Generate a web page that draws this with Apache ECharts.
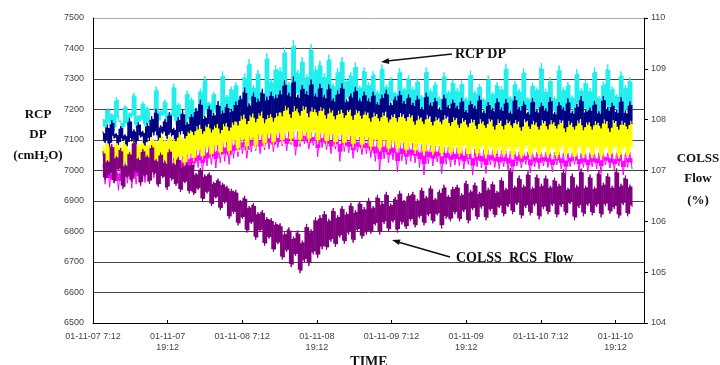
<!DOCTYPE html>
<html>
<head>
<meta charset="utf-8">
<style>
  html, body { margin: 0; padding: 0; background: #fff; }
  #chart { width: 720px; height: 365px; }
</style>
<script src="https://cdn.jsdelivr.net/npm/echarts@6/dist/echarts.min.js"></script>
</head>
<body>
<div id="chart"></div>
<script>
// time axis in hours since 01-11-07 7:12, one tick every 12 h
const tickLabels = [
  "01-11-07 7:12", "01-11-07\n19:12", "01-11-08 7:12", "01-11-08\n19:12",
  "01-11-09 7:12", "01-11-09\n19:12", "01-11-10 7:12", "01-11-10\n19:12"
];
const sampleStart = 1.6;   // h, first logged sample
const sampleStep = 0.356;  // h between samples

// RCP DP channels (cmH2O), left axis
const cyanDP = [
  7170,7140,7205,7152,7188,7130,7240,7165,7158,7135,7215,7148,7190,7172,7255,7138,7182,7160,7226,7144,
  7210,7150,7168,7142,7275,7160,7198,7178,7232,7146,7190,7165,7285,7150,7222,7170,7185,7144,7262,7158,
  7240,7160,7205,7180,7268,7158,7310,7185,7226,7165,7258,7190,7212,7162,7325,7175,7248,7196,7275,7168,
  7290,7185,7245,7200,7318,7182,7365,7215,7280,7190,7330,7205,7262,7188,7385,7210,7300,7195,7345,7220,
  7338,7210,7405,7230,7290,7205,7428,7245,7330,7215,7372,7208,7315,7240,7415,7212,7342,7225,7360,7205,
  7318,7200,7380,7228,7285,7198,7335,7215,7372,7205,7300,7235,7322,7196,7355,7210,7278,7220,7338,7200,
  7290,7188,7325,7210,7262,7185,7348,7205,7282,7195,7305,7220,7258,7188,7336,7200,7272,7215,7312,7186,
  7275,7180,7302,7200,7248,7176,7338,7195,7268,7182,7290,7210,7242,7178,7322,7192,7262,7205,7298,7178,
  7270,7168,7295,7190,7240,7165,7328,7185,7262,7172,7284,7200,7238,7166,7312,7180,7258,7195,7290,7170,
  7276,7170,7350,7188,7245,7166,7294,7192,7268,7175,7335,7198,7240,7168,7288,7182,7272,7196,7352,7170,
  7268,7168,7305,7190,7242,7170,7345,7185,7274,7172,7290,7200,7246,7166,7332,7186,7270,7194,7298,7168,
  7270,7170,7338,7188,7244,7166,7292,7195,7348,7172,7275,7200,7250,7168,7325,7184,7280,7192,7305,7170
];
const navyDP = [
  7128,7090,7150,7078,7165,7105,7122,7084,7146,7098,7118,7080,7172,7095,7135,7086,7158,7108,7130,7082,
  7155,7098,7178,7115,7202,7100,7148,7120,7168,7104,7192,7112,7140,7096,7175,7118,7198,7105,7158,7122,
  7185,7116,7205,7135,7232,7120,7178,7142,7212,7125,7188,7140,7228,7122,7196,7145,7218,7130,7202,7150,
  7226,7148,7245,7168,7272,7152,7220,7175,7255,7158,7235,7180,7268,7155,7242,7172,7258,7160,7248,7178,
  7262,7178,7295,7198,7255,7172,7308,7195,7248,7180,7280,7200,7260,7175,7298,7192,7252,7180,7284,7195,
  7248,7170,7282,7190,7236,7168,7262,7185,7285,7172,7232,7192,7252,7166,7274,7188,7236,7170,7258,7182,
  7236,7160,7258,7178,7224,7162,7248,7180,7265,7158,7222,7175,7242,7160,7260,7176,7228,7162,7250,7174,
  7222,7150,7245,7168,7208,7152,7255,7170,7222,7148,7238,7165,7206,7152,7248,7170,7214,7146,7232,7165,
  7212,7140,7238,7160,7198,7142,7228,7158,7212,7136,7245,7155,7196,7140,7224,7160,7205,7134,7236,7156,
  7206,7135,7234,7155,7194,7140,7244,7152,7208,7130,7226,7158,7192,7136,7238,7150,7200,7134,7222,7155,
  7204,7135,7240,7152,7192,7138,7224,7156,7208,7126,7236,7150,7195,7134,7218,7155,7244,7132,7200,7150,
  7206,7134,7228,7150,7194,7138,7244,7154,7208,7126,7222,7156,7198,7134,7240,7150,7196,7136,7226,7152
];
const yellowDP = [
  7080,6998,7098,7020,7072,6990,7095,7010,7085,6994,7105,7025,7070,6996,7098,7015,7088,6992,7100,7008,
  7092,7004,7112,7030,7098,7006,7122,7028,7100,7010,7118,7035,7104,7012,7128,7040,7110,7016,7135,7045,
  7138,7030,7150,7060,7145,7036,7162,7070,7152,7042,7168,7075,7160,7048,7174,7085,7166,7052,7182,7088,
  7186,7060,7198,7095,7188,7066,7208,7100,7196,7070,7212,7108,7200,7076,7218,7112,7206,7080,7222,7115,
  7225,7086,7234,7120,7220,7090,7238,7125,7226,7088,7232,7118,7220,7092,7228,7122,7216,7086,7222,7115,
  7216,7084,7214,7112,7206,7080,7216,7110,7204,7078,7210,7105,7200,7075,7208,7102,7196,7072,7202,7100,
  7196,7066,7192,7095,7186,7062,7195,7092,7184,7060,7190,7088,7180,7060,7188,7085,7178,7056,7186,7082,
  7182,7054,7178,7080,7174,7050,7182,7078,7170,7050,7178,7076,7168,7046,7176,7075,7170,7048,7176,7072,
  7170,7046,7168,7075,7172,7042,7165,7070,7170,7044,7166,7072,7172,7040,7164,7070,7168,7042,7170,7068,
  7166,7042,7160,7070,7168,7040,7162,7068,7166,7038,7160,7072,7168,7040,7162,7066,7165,7042,7160,7070,
  7164,7040,7168,7068,7160,7038,7166,7070,7162,7042,7168,7066,7160,7036,7165,7072,7162,7040,7167,7068,
  7162,7040,7166,7070,7160,7036,7168,7068,7163,7042,7166,7072,7160,7038,7165,7066,7162,7040,7168,7070
];
const magentaDP = [
  7020,6955,7030,6945,7015,6960,7025,6935,7020,6950,7030,6958,7018,6942,7025,6955,7030,6948,7022,6960,
  7035,6965,7040,6975,7030,6968,7045,6980,7040,6972,7050,6985,7045,6978,7055,6990,7050,6985,7060,6995,
  7065,7000,7070,7010,7075,6995,7080,7015,7085,7020,7090,7008,7095,7025,7100,7030,7100,7020,7105,7040,
  7110,7045,7112,7055,7115,7040,7118,7060,7120,7065,7120,7055,7122,7068,7125,7070,7125,7062,7125,7075,
  7125,7080,7128,7065,7128,7085,7130,7050,7128,7078,7128,7088,7126,7070,7125,7082,7124,7045,7124,7075,
  7122,7068,7120,7055,7120,7070,7118,7030,7118,7062,7115,7058,7115,7040,7112,7060,7110,7052,7110,7055,
  7108,7042,7105,7030,7105,7000,7102,7038,7100,7025,7098,7035,7095,6995,7095,7032,7092,7020,7090,7030,
  7090,7025,7088,7010,7085,6985,7085,7022,7082,7015,7080,7028,7080,6990,7078,7020,7078,7012,7075,7018,
  7075,7015,7075,7005,7072,7020,7072,6985,7070,7012,7070,7008,7068,6990,7068,7018,7066,7010,7066,7005,
  7066,7012,7065,7000,7064,6985,7064,7015,7062,7008,7062,7020,7062,6992,7060,7012,7060,7005,7060,7015,
  7060,7010,7060,6995,7060,7018,7060,7005,7058,6988,7058,7012,7058,7020,7058,7000,7058,7010,7058,6995,
  7058,7012,7058,7005,7058,6990,7058,7018,7058,7008,7058,7000,7058,7015,7058,6985,7058,7010,7060,7005
];

// COLSS RCS flow (%), right axis
const colssFlow = [
  107.38,106.82,107.20,106.90,107.52,106.75,107.28,107.00,107.44,106.64,107.12,106.86,107.36,106.78,107.60,106.95,107.25,106.72,107.42,106.88,
  107.30,106.74,107.50,106.92,107.22,106.68,107.35,106.85,107.18,106.62,107.42,106.80,107.15,106.70,107.26,106.58,107.10,106.75,107.14,106.55,
  107.16,106.52,106.95,106.62,107.05,106.40,106.92,106.55,106.96,106.30,106.78,106.45,106.84,106.22,106.76,106.35,106.70,106.05,106.64,106.15,
  106.62,105.92,106.42,106.05,106.50,105.78,106.30,105.95,106.36,105.64,106.18,105.80,106.22,105.52,106.08,105.66,106.06,105.40,105.98,105.55,
  105.96,105.25,105.78,105.40,105.88,105.10,105.70,105.32,105.82,104.98,105.62,105.20,105.95,105.12,105.84,105.35,106.08,105.28,106.12,105.45,
  106.20,105.44,106.05,105.60,106.26,105.50,106.12,105.68,106.30,105.56,106.18,105.74,106.36,105.58,106.22,105.80,106.40,105.66,106.28,105.74,
  106.46,105.76,106.30,105.92,106.52,105.74,106.38,105.95,106.58,105.80,106.35,105.98,106.48,105.78,106.60,105.94,106.42,105.85,106.55,106.00,
  106.58,105.88,106.44,106.06,106.66,105.92,106.50,106.10,106.70,105.96,106.46,106.12,106.62,105.86,106.72,106.05,106.52,106.00,106.68,106.14,
  106.72,106.00,106.55,106.18,106.80,105.96,106.62,106.22,106.76,106.04,106.58,106.25,106.86,106.02,106.66,106.20,106.78,106.08,106.60,106.26,
  106.86,106.10,106.66,106.28,107.05,106.14,106.70,106.32,106.90,106.06,106.72,106.26,106.98,106.12,106.68,106.30,106.92,106.04,106.74,106.24,
  106.90,106.14,106.70,106.30,106.86,106.08,106.74,106.28,107.02,106.12,106.66,106.34,106.94,106.02,106.72,106.26,107.04,106.10,106.70,106.30,
  106.92,106.12,106.68,106.28,107.00,106.08,106.76,106.30,106.94,106.15,106.70,106.24,107.04,106.06,106.74,106.32,106.90,106.10,106.72,106.28
];

const serif = "'Liberation Serif', 'DejaVu Serif', serif";
const sans = "'Liberation Sans', Arial, sans-serif";

// series in drawing order (first = bottom); core = how much of each step is solid
const seriesDefs = [
  { name: "RCP DP 1", color: "#22EEEE", values: cyanDP, axis: 0, core: 0.1 },
  { name: "RCP DP 4", color: "#FF00FF", values: magentaDP, axis: 0, core: 0.36 },
  { name: "RCP DP 3", color: "#FFFF00", values: yellowDP, axis: 0, core: 0.1 },
  { name: "RCP DP 2", color: "#000080", values: navyDP, axis: 0, core: 0.15 },
  { name: "COLSS RCS Flow", color: "#800080", values: colssFlow, axis: 1, core: 0.08 }
];

// every step between two logged samples: the trace segment itself (thin line)
// plus a solid core, so the noisy band fills in like the recorder printout
function traceSeries(d) {
  const data = [];
  for (let i = 0; i < d.values.length - 1; i++) {
    data.push([sampleStart + i * sampleStep, d.values[i], d.values[i + 1]]);
  }
  return {
    name: d.name,
    type: "custom",
    yAxisIndex: d.axis,
    silent: true,
    clip: true,
    encode: { x: 0, y: [1, 2] },
    renderItem: (params, api) => {
      const t = api.value(0);
      const p0 = api.coord([t, api.value(1)]);
      const p1 = api.coord([t + sampleStep, api.value(2)]);
      const yTop = Math.min(p0[1], p1[1]);
      const h = Math.abs(p1[1] - p0[1]);
      return {
        type: "group",
        children: [
          {
            type: "rect",
            shape: { x: p0[0], y: yTop + h * d.core, width: p1[0] - p0[0] + 0.4, height: Math.max(1, h * (1 - 2 * d.core)) },
            style: { fill: d.color }
          },
          {
            type: "line",
            shape: { x1: p0[0], y1: p0[1], x2: p1[0], y2: p1[1] },
            style: { stroke: d.color, lineWidth: 1 }
          }
        ]
      };
    },
    data
  };
}

const chart = echarts.init(document.getElementById("chart"), null, { renderer: "canvas" });

const gridColors = ["#444", "#444", "#444", "#444", "#444", "#444", "#444", "#444", "#444", "#444", "#aaa"];

function label(text, x, y, size) {
  return {
    type: "text", x, y, z: 10,
    style: { text, font: "bold " + size + "px " + serif, fill: "#111", align: "center", verticalAlign: "middle" }
  };
}

const option = {
  animation: false,
  backgroundColor: "#fff",
  grid: { left: 93, right: 76, top: 18, bottom: 42 },
  xAxis: {
    type: "value",
    min: 0,
    max: 88.6,
    interval: 12,
    axisLine: { lineStyle: { color: "#000", width: 1 } },
    axisTick: { inside: true, length: 3, lineStyle: { color: "#000" } },
    axisLabel: {
      color: "#444",
      fontFamily: sans,
      fontSize: 9,
      lineHeight: 11,
      margin: 8,
      showMaxLabel: false,
      formatter: (v) => {
        const k = Math.round(v / 12);
        return Math.abs(v - k * 12) < 1e-6 && tickLabels[k] ? tickLabels[k] : "";
      }
    },
    splitLine: { show: false }
  },
  yAxis: [
    {
      type: "value",
      min: 6500,
      max: 7500,
      interval: 100,
      axisLine: { show: true, lineStyle: { color: "#000" } },
      axisTick: { show: false },
      axisLabel: { color: "#444", fontFamily: sans, fontSize: 9, margin: 9, formatter: (v) => String(v) },
      splitLine: { lineStyle: { color: gridColors, width: 1 } }
    },
    {
      type: "value",
      position: "right",
      min: 104,
      max: 110,
      interval: 1,
      axisLine: { show: true, lineStyle: { color: "#000" } },
      axisTick: { show: true, length: 4, lineStyle: { color: "#000" } },
      axisLabel: { color: "#444", fontFamily: sans, fontSize: 9, margin: 7, formatter: (v) => String(v) },
      splitLine: { show: false }
    }
  ],
  series: seriesDefs.map(traceSeries),
  graphic: [
    // axis titles
    label("RCP", 38, 115, 13),
    label("DP", 38, 135, 13),
    label("(cmH₂O)", 38, 156, 13),
    label("COLSS", 698, 159, 13),
    label("Flow", 698, 179, 13),
    label("(%)", 698, 201, 13),
    label("TIME", 369, 362, 14),
    // annotations
    { type: "text", x: 455, y: 54, style: { text: "RCP DP", font: "bold 14px " + serif, fill: "#111", verticalAlign: "middle" } },
    { type: "line", shape: { x1: 452, y1: 54, x2: 387, y2: 61 }, style: { stroke: "#111", lineWidth: 1.6 } },
    { type: "polygon", shape: { points: [[381, 62], [389.3, 64.1], [388.6, 58.1]] }, style: { fill: "#111" } },
    { type: "text", x: 456, y: 258, style: { text: "COLSS  RCS  Flow", font: "bold 14px " + serif, fill: "#111", verticalAlign: "middle" } },
    { type: "line", shape: { x1: 450, y1: 257, x2: 398, y2: 242 }, style: { stroke: "#111", lineWidth: 1.6 } },
    { type: "polygon", shape: { points: [[392, 240], [400.5, 239.4], [398.9, 245.1]] }, style: { fill: "#111" } }
  ]
};

chart.setOption(option);
</script>
</body>
</html>
